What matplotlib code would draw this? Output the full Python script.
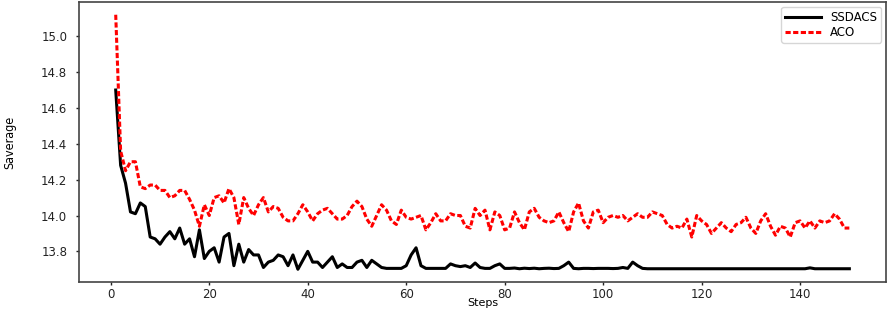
import matplotlib
matplotlib.use("Agg")
import matplotlib.pyplot as plt
import numpy as np

steps = list(range(1, 151))

ssdacs = [
    14.70, 14.28, 14.18, 14.02, 14.01, 14.07, 14.05, 13.88, 13.87, 13.84,
    13.88, 13.91, 13.87, 13.93, 13.84, 13.87, 13.77, 13.92, 13.76, 13.80,
    13.82, 13.74, 13.88, 13.90, 13.72, 13.84, 13.74, 13.81, 13.78, 13.78,
    13.71, 13.74, 13.75, 13.78, 13.77, 13.72, 13.78, 13.70, 13.75, 13.80,
    13.74, 13.74, 13.71, 13.74, 13.77, 13.71, 13.73, 13.71, 13.71, 13.74,
    13.75, 13.71, 13.75, 13.73, 13.71, 13.705, 13.705, 13.705, 13.705, 13.72,
    13.78, 13.82, 13.72, 13.705, 13.705, 13.705, 13.705, 13.705, 13.73, 13.72,
    13.715, 13.72, 13.71, 13.735, 13.71, 13.705, 13.705, 13.72, 13.73, 13.705,
    13.705, 13.707, 13.703, 13.706, 13.704, 13.706, 13.703, 13.705, 13.706, 13.704,
    13.705, 13.72, 13.74, 13.705, 13.703, 13.705, 13.705, 13.704, 13.705, 13.705,
    13.705, 13.704, 13.705, 13.71, 13.705, 13.74, 13.72, 13.705, 13.703, 13.703,
    13.703, 13.703, 13.703, 13.703, 13.703, 13.703, 13.703, 13.703, 13.703, 13.703,
    13.703, 13.703, 13.703, 13.703, 13.703, 13.703, 13.703, 13.703, 13.703, 13.703,
    13.703, 13.703, 13.703, 13.703, 13.703, 13.703, 13.703, 13.703, 13.703, 13.703,
    13.703, 13.708, 13.703, 13.703, 13.703, 13.703, 13.703, 13.703, 13.703, 13.703,
]

aco = [
    15.12, 14.36, 14.25, 14.30, 14.30, 14.16, 14.15, 14.17, 14.17, 14.14,
    14.14, 14.10, 14.11, 14.14, 14.14, 14.09, 14.03, 13.94, 14.06, 14.00,
    14.10, 14.11, 14.07, 14.15, 14.10, 13.95, 14.10, 14.04, 14.00, 14.06,
    14.10, 14.02, 14.05, 14.04, 13.99, 13.97, 13.97, 14.01, 14.06, 14.02,
    13.97, 14.01, 14.03, 14.04, 14.01, 13.98, 13.98, 14.00, 14.05, 14.08,
    14.05, 13.98, 13.94, 14.00, 14.06, 14.03, 13.97, 13.95, 14.03, 13.99,
    13.98, 13.99, 14.00, 13.92, 13.96, 14.01, 13.97, 13.97, 14.01, 14.00,
    14.00, 13.94, 13.93, 14.04, 14.00, 14.03, 13.92, 14.02, 14.00, 13.92,
    13.93, 14.02, 13.96, 13.92, 14.02, 14.04, 13.99, 13.97, 13.96, 13.97,
    14.02, 13.96, 13.91, 14.02, 14.07, 13.97, 13.93, 14.02, 14.03, 13.96,
    13.99, 14.00, 13.99, 14.00, 13.97, 13.99, 14.01, 13.99, 13.99, 14.02,
    14.01, 14.00, 13.95, 13.93, 13.94, 13.93, 13.98, 13.88, 14.00, 13.97,
    13.95, 13.90, 13.93, 13.96, 13.93, 13.91, 13.95, 13.96, 13.99, 13.93,
    13.90, 13.97, 14.01, 13.94, 13.89, 13.94, 13.93, 13.88, 13.96, 13.97,
    13.93, 13.97, 13.93, 13.97, 13.96, 13.97, 14.01, 13.98, 13.93, 13.93,
]

yticks = [13.8, 14.0, 14.2, 14.4, 14.6, 14.8, 15.0]
xticks = [0, 20, 40, 60, 80, 100, 120, 140]

fig = plt.figure(figsize=(8.92, 3.10), dpi=100)
ax = fig.add_axes([0.0886, 0.0903, 0.9047, 0.9032])

ax.plot(steps, ssdacs, color="black", lw=2.2, label="SSDACS",
        solid_joinstyle="round")
ax.plot(steps, aco, color="red", lw=2.2, dashes=(1.7, 0.8), label="ACO")

ax.set_xticks(xticks)
ax.set_yticks(yticks)
ax.set_yticklabels([f"{v:.1f}" for v in yticks])
ax.tick_params(labelsize=8.5, colors="#222222", length=2.5, width=1, pad=1.5)
ax.tick_params(axis="y", pad=6)
for s in ax.spines.values():
    s.set_color("#444444")
    s.set_linewidth(1.2)

ax.set_xlabel("Steps", fontsize=8, va="center")
ax.xaxis.set_label_coords(0.5, -0.075)
ax.set_ylabel("Saverage", fontsize=9, fontstretch="condensed", va="center")
ax.yaxis.set_label_coords(-0.0855, 0.5)

leg = ax.legend(loc="upper right", fontsize=8.5, frameon=True, handlelength=3,
                borderpad=0.35, labelspacing=0.15, fancybox=True,
                borderaxespad=0.4)
leg.get_frame().set_edgecolor("#cccccc")

fig.savefig("out.png", dpi=100)
